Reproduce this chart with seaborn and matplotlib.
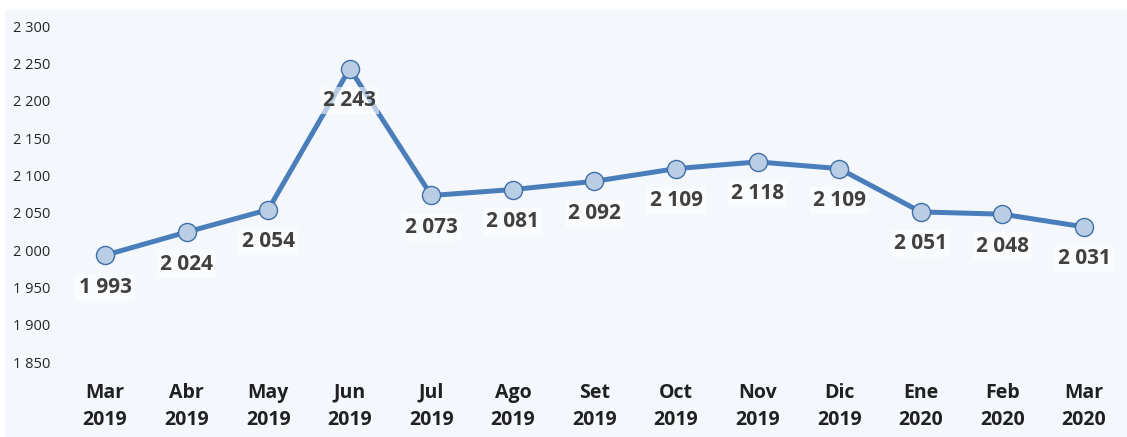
import matplotlib
matplotlib.use("Agg")
import matplotlib.pyplot as plt
import seaborn as sns
import pandas as pd

# Monthly values
months = ["Mar\n2019", "Abr\n2019", "May\n2019", "Jun\n2019", "Jul\n2019", "Ago\n2019", "Set\n2019",
          "Oct\n2019", "Nov\n2019", "Dic\n2019", "Ene\n2020", "Feb\n2020", "Mar\n2020"]
values = [1993, 2024, 2054, 2243, 2073, 2081, 2092, 2109, 2118, 2109, 2051, 2048, 2031]
y_ticks = [1850, 1900, 1950, 2000, 2050, 2100, 2150, 2200, 2250, 2300]


def fmt(v):
    return f"{v:,}".replace(",", " ")


sns.set_style("white")
plt.rcParams["font.family"] = ["Open Sans", "DejaVu Sans"]

df = pd.DataFrame({"pos": range(len(months)), "value": values})

fig = plt.figure(figsize=(11.27, 4.37), dpi=100)
fig.patch.set_facecolor("white")
bg = fig.add_axes([0.004, 0, 0.996, 0.977])
bg.set_facecolor("#F4F7FB")
bg.set_xticks([])
bg.set_yticks([])
for s in bg.spines.values():
    s.set_visible(False)

ax = fig.add_axes([0.057, 0.1716, 0.941, 0.7689])
ax.patch.set_alpha(0)
sns.lineplot(data=df, x="pos", y="value", ax=ax, color="#4A7EBB", linewidth=3.6,
             marker="o", markersize=13, markerfacecolor="#B9CDE5",
             markeredgecolor="#3F6EA8", markeredgewidth=1.0)

for x, v in zip(df["pos"], df["value"]):
    ax.annotate(fmt(v), (x, v), xytext=(0, -23), textcoords="offset points",
                ha="center", va="center", fontsize=15, fontweight="bold", color="#404040",
                bbox=dict(boxstyle="square,pad=0.15", facecolor="white", edgecolor="none", alpha=0.6))

ax.set_xlim(-0.5, len(months) - 0.5)
ax.set_ylim(1850, 2300)
ax.set_yticks(y_ticks)
ax.set_yticklabels([fmt(t) for t in y_ticks], fontsize=10.5, color="#262626")
ax.set_xticks(range(len(months)))
ax.set_xticklabels(months, fontsize=14, fontweight="bold", color="#202020", linespacing=1.45)
ax.tick_params(axis="x", length=0, pad=15)
ax.tick_params(axis="y", length=0, pad=10)
ax.set_xlabel("")
ax.set_ylabel("")
for s in ax.spines.values():
    s.set_visible(False)

fig.savefig("out.png", dpi=100, facecolor="white")
